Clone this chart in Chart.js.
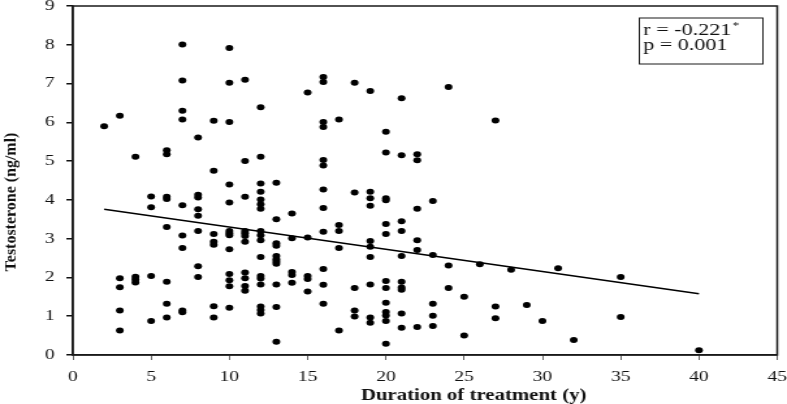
<!DOCTYPE html>
<html lang="en">
<head>
    <meta charset="UTF-8">
    <title>Testosterone vs duration of treatment</title>
    <script src="https://cdn.jsdelivr.net/npm/chart.js"></script>
    <style>
        body{ margin:0; background:#fff; }
        /* the source figure is stretched sideways, so the chart is drawn narrow and widened */
        .wrap{
            width: 605px;
            height: 404px;
            transform: scaleX(1.3008);
            transform-origin: 0 0;
        }
    </style>
</head>
<body>
    <div class="wrap">
        <canvas id="myChart" width="605" height="404"></canvas>
    </div>
<script>
    // duration of treatment (years) and testosterone (ng/ml)
    const duration = [
        2,
        3, 3, 3, 3, 3,
        4, 4, 4, 4,
        5, 5, 5, 5,
        6, 6, 6, 6, 6, 6, 6, 6,
        7, 7, 7, 7, 7, 7, 7, 7, 7,
        8, 8, 8, 8, 8, 8, 8, 8,
        9, 9, 9, 9, 9, 9, 9,
        10, 10, 10, 10, 10, 10, 10, 10, 10, 10, 10, 10, 10,
        11, 11, 11, 11, 11, 11, 11, 11, 11, 11, 11,
        12, 12, 12, 12, 12, 12, 12, 12, 12, 12, 12, 12, 12, 12, 12, 12, 12,
        13, 13, 13, 13, 13, 13, 13, 13, 13, 13, 13,
        14, 14, 14, 14, 14,
        15, 15, 15, 15, 15,
        16, 16, 16, 16, 16, 16, 16, 16, 16, 16, 16, 16,
        17, 17, 17, 17, 17,
        18, 18, 18, 18, 18,
        19, 19, 19, 19, 19, 19, 19, 19, 19, 19,
        20, 20, 20, 20, 20, 20, 20, 20, 20, 20, 20, 20, 20,
        21, 21, 21, 21, 21, 21, 21, 21, 21, 21,
        22, 22, 22, 22, 22, 22,
        23, 23, 23, 23, 23,
        24, 24, 24,
        25, 25,
        26,
        27, 27, 27,
        28, 29, 30, 31, 32,
        35, 35,
        40
    ];
    const testosterone = [
        5.90,
        6.17, 1.98, 1.75, 1.15, 0.63,
        5.11, 2.02, 1.95, 1.87,
        4.09, 3.81, 2.04, 0.88,
        5.28, 5.18, 4.08, 4.02, 3.30, 1.89, 1.32, 0.97,
        8.01, 7.08, 6.30, 6.07, 3.86, 3.08, 2.76, 1.15, 1.10,
        5.61, 4.13, 4.06, 3.76, 3.59, 3.20, 2.29, 2.01,
        6.04, 4.75, 3.12, 2.92, 2.84, 1.26, 0.97,
        7.92, 7.02, 6.01, 4.40, 3.93, 3.20, 3.14, 3.09, 2.73, 2.09, 1.93, 1.77, 1.22,
        7.10, 5.00, 4.08, 3.20, 3.14, 3.07, 2.92, 2.13, 1.98, 1.78, 1.66,
        6.39, 5.11, 4.42, 4.21, 4.01, 3.89, 3.77, 3.20, 3.09, 2.96, 2.53, 2.04, 1.97, 1.82, 1.25, 1.16, 1.07,
        4.44, 3.50, 2.88, 2.82, 2.55, 2.47, 2.41, 2.35, 1.82, 1.24, 0.34,
        3.65, 3.01, 2.14, 2.06, 1.86,
        6.77, 3.03, 2.04, 1.96, 1.64,
        7.17, 7.04, 6.01, 5.88, 5.03, 4.89, 4.27, 3.79, 3.18, 2.22, 1.81, 1.32,
        6.07, 3.35, 3.20, 2.76, 0.63,
        7.02, 4.19, 1.73, 1.15, 0.99,
        6.81, 4.21, 4.04, 3.85, 2.94, 2.79, 2.53, 1.82, 0.97, 0.83,
        5.76, 5.22, 4.04, 3.99, 3.38, 3.12, 1.91, 1.73, 1.35, 1.11, 1.02, 0.88, 0.29,
        6.62, 5.15, 3.45, 3.20, 2.55, 1.89, 1.74, 1.68, 1.07, 0.70,
        5.18, 5.02, 3.77, 2.96, 2.71, 0.72,
        3.97, 2.58, 1.32, 1.01, 0.75,
        6.91, 2.31, 1.73,
        1.50, 0.50,
        2.34,
        6.05, 1.25, 0.95,
        2.20, 1.29, 0.88, 2.24, 0.39,
        2.01, 0.98,
        0.12
    ];
    // regression line end points
    const fitX = [2, 40];
    const fitY = [3.76, 1.58];

    const xTitle = 'Duration of treatment (y)';
    const yTitle = 'Testosterone (ng/ml)';
    const statLines = ['r = -0.221', 'p = 0.001'];

    const serif = '"Liberation Serif", "Times New Roman", serif';

    const overlay = {
        id: 'overlay',
        afterDraw(chart){
            const ctx = chart.ctx;
            const a = chart.chartArea;
            ctx.save();
            // frame round the plot
            ctx.strokeStyle = '#1a1a1a';
            ctx.lineWidth = 1.5;
            ctx.strokeRect(a.left, a.top, a.right - a.left, a.bottom - a.top);

            ctx.fillStyle = '#111';
            ctx.textBaseline = 'middle';

            // x title (sits right of centre in the source)
            ctx.font = 'bold 16px ' + serif;
            ctx.textAlign = 'center';
            ctx.fillText(xTitle, a.left + 0.569 * (a.right - a.left), 396);

            // y title
            ctx.save();
            ctx.translate(9, 202);
            ctx.rotate(-Math.PI / 2);
            ctx.scale(1.33, 1);
            ctx.font = 'bold 12px ' + serif;
            ctx.fillText(yTitle, 0, 0);
            ctx.restore();

            // r / p box
            const bx = a.right - 106, by = 18;
            ctx.lineWidth = 1;
            ctx.strokeRect(bx, by, 95, 46);
            ctx.textAlign = 'left';
            ctx.font = '17px ' + serif;
            ctx.fillText(statLines[0], bx + 3, by + 13);
            const w = ctx.measureText(statLines[0]).width;
            ctx.fillText(statLines[1], bx + 3, by + 28);
            ctx.font = '10px ' + serif;
            ctx.fillText('*', bx + 4 + w, by + 8);
            ctx.restore();
        }
    };

    const points = duration.map((d, i) => ({x: d, y: testosterone[i]}));
    const fitLine = fitX.map((d, i) => ({x: d, y: fitY[i]}));

    const ctx = document.querySelector('#myChart');
    const myChart = new Chart(ctx, {
        type: 'scatter',
        data: {
            datasets: [{
                label: 'Patients',
                data: points,
                backgroundColor: '#000',
                borderColor: '#000',
                pointRadius: 3,
                pointBorderWidth: 0
            }, {
                type: 'line',
                label: 'Fit',
                data: fitLine,
                borderColor: '#000',
                borderWidth: 1.6,
                pointRadius: 0,
                fill: false
            }]
        },
        options: {
            responsive: false,
            animation: false,
            layout: { padding: { top: 6, right: 7.5, left: 0, bottom: 0 } },
            plugins: {
                legend: { display: false },
                tooltip: { enabled: false }
            },
            scales: {
                x: {
                    type: 'linear',
                    min: 0,
                    max: 45,
                    ticks: {
                        stepSize: 5,
                        color: '#111',
                        padding: 8,
                        maxRotation: 0,
                        font: { family: serif, size: 15 }
                    },
                    grid: { drawOnChartArea: false, tickLength: 5, color: '#666', lineWidth: 1 },
                    border: { display: true, color: '#1a1a1a', width: 1.5 },
                    afterFit(s){ s.height = 49; s.paddingLeft = 0; s.paddingRight = 0; }
                },
                y: {
                    min: 0,
                    max: 9,
                    ticks: {
                        stepSize: 1,
                        color: '#111',
                        padding: 9,
                        font: { family: serif, size: 15 }
                    },
                    grid: { drawOnChartArea: false, tickLength: 5, color: '#111', lineWidth: 1.5 },
                    border: { display: true, color: '#1a1a1a', width: 1.5 },
                    afterFit(s){ s.width = 56; s.paddingTop = 0; s.paddingBottom = 0; }
                }
            }
        },
        plugins: [overlay]
    });
</script>
</body>
</html>
